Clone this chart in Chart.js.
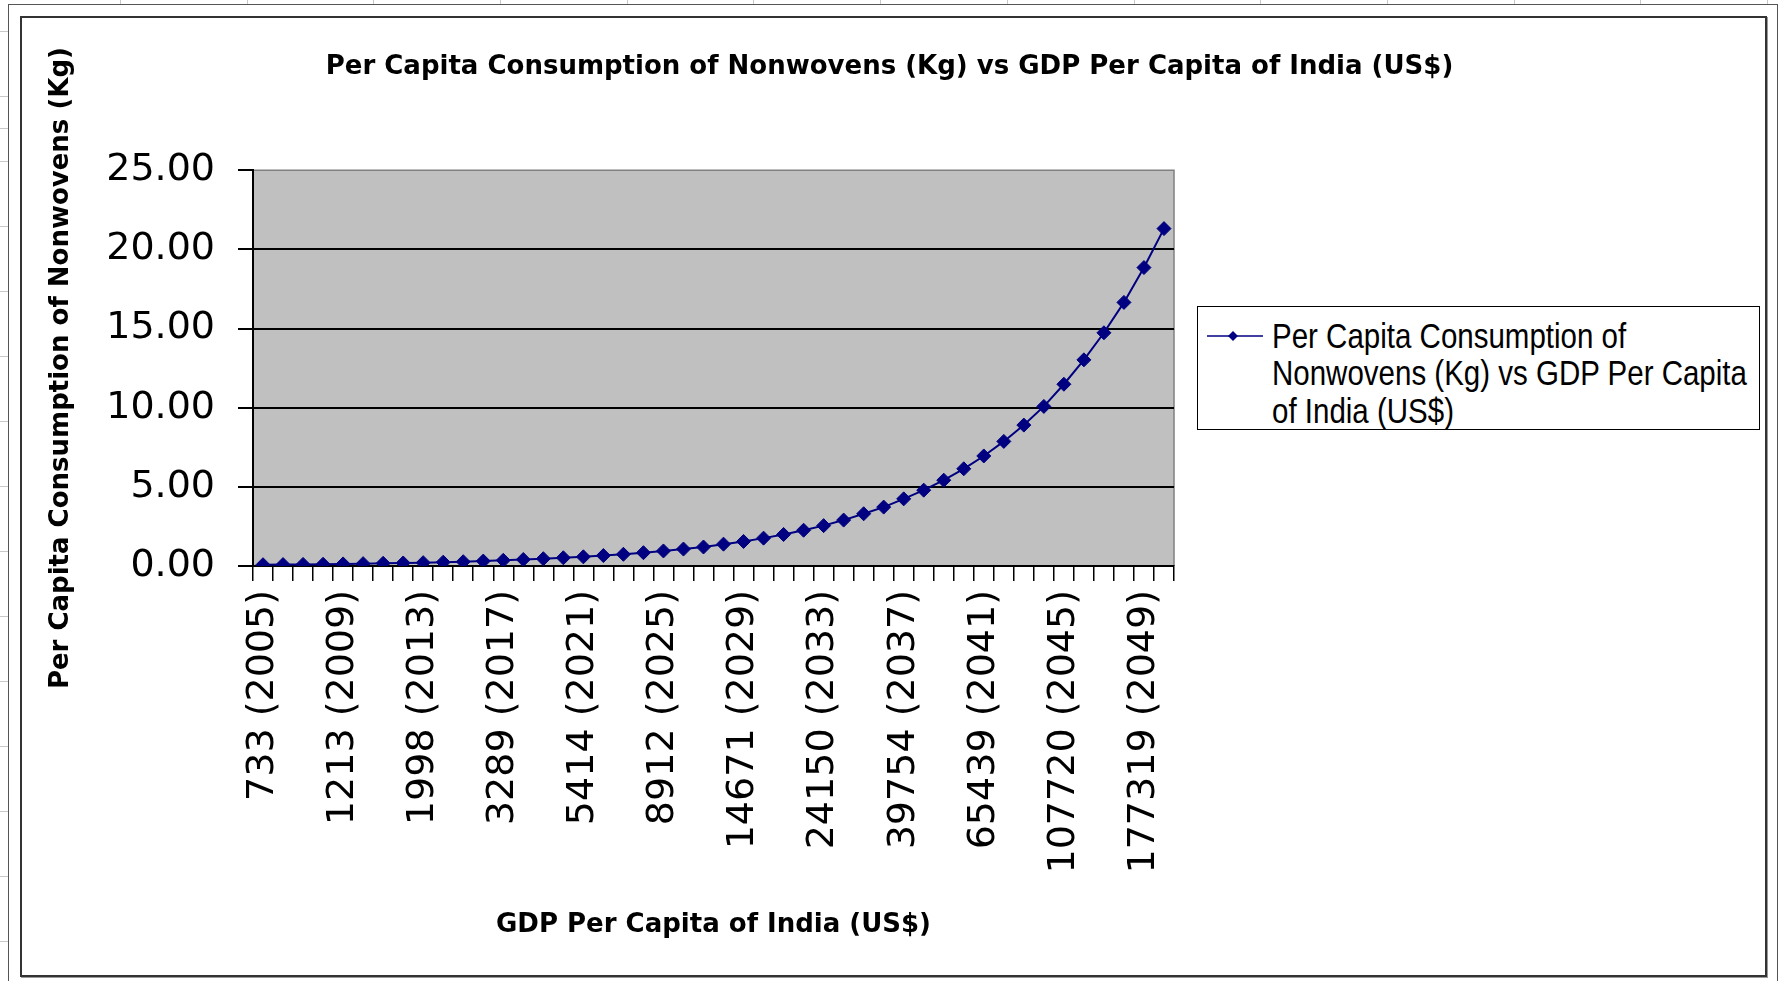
<!DOCTYPE html>
<html>
<head>
<meta charset="utf-8">
<script src="https://cdn.jsdelivr.net/npm/chart.js@4.4.1/dist/chart.umd.min.js"></script>
<style>
	html, body { margin: 0; padding: 0; background: #fff; }
	body { width: 1779px; height: 981px; position: relative; overflow: hidden; }
	#topstrip { position: absolute; left: 0; top: 0; width: 1779px; height: 5px;
		background: repeating-linear-gradient(90deg, transparent 0 120px, #c8c8c8 120px 121px, transparent 121px 126.7px); }
	#leftstrip { position: absolute; left: 0; top: 0; width: 8px; height: 981px;
		background: repeating-linear-gradient(180deg, transparent 0 31px, #c8c8c8 31px 32px, transparent 32px 32.5px); }
	#outer { position: absolute; left: 8px; top: 4px; width: 1768px; height: 985px; border: 1px solid #555; border-bottom: none; background: #fff; }
	#inner { position: absolute; left: 20px; top: 16px; width: 1743px; height: 957px; border: 2px solid #333;
		box-shadow: 1px 1px 0 #999; background: #fff; }
	#mycanvas { position: absolute; left: 0; top: 0; }
	#legend { position: absolute; left: 1197px; top: 306px; width: 561px; height: 122px; border: 1.5px solid #000; background: #fff; }
	#legend svg { position: absolute; left: 9px; top: 22px; }
	#legend .txt { position: absolute; left: 74px; top: 10px; width: 480px; font-family: "Liberation Sans", Arial, sans-serif;
		font-size: 29.5px; line-height: 31px; color: #000; transform: scaleY(1.2); transform-origin: 0 0; white-space: nowrap; }
</style>
</head>
<body>
<div id="topstrip"></div>
<div id="leftstrip"></div>
<div id="outer"></div>
<div id="inner"></div>
<canvas id="mycanvas" width="1779" height="981"></canvas>
<div id="legend">
	<svg width="60" height="14" viewBox="0 0 60 14">
		<line x1="0" y1="7" x2="56" y2="7" stroke="#000080" stroke-width="1.5"/>
		<polygon points="26,2 31,7 26,12 21,7" fill="#000080"/>
	</svg>
	<div class="txt">Per Capita Consumption of<br>Nonwovens (Kg) vs GDP Per Capita<br>of India (US$)</div>
</div>
<script>
var years = [2005, 2006, 2007, 2008, 2009, 2010, 2011, 2012, 2013, 2014, 2015, 2016, 2017, 2018, 2019, 2020,
	2021, 2022, 2023, 2024, 2025, 2026, 2027, 2028, 2029, 2030, 2031, 2032, 2033, 2034, 2035, 2036, 2037,
	2038, 2039, 2040, 2041, 2042, 2043, 2044, 2045, 2046, 2047, 2048, 2049, 2050];

// GDP per capita (US$) - only every 4th one is printed on the chart, the rest are estimates
var gdpPerCapita = [733, 831, 943, 1069, 1213, 1374, 1556, 1763, 1998, 2263, 2563, 2903, 3289, 3725, 4220, 4780,
	5414, 6132, 6946, 7868, 8912, 10095, 11434, 12952, 14671, 16618, 18823, 21321, 24150, 27355, 30985, 35097,
	39754, 45029, 51005, 57773, 65439, 74123, 83959, 95100, 107720, 122015, 138206, 156546, 177319, 200850];

// per capita consumption of nonwovens (Kg)
var consumption = [0.08, 0.09, 0.10, 0.11, 0.13, 0.15, 0.17, 0.19, 0.21, 0.24, 0.27, 0.31, 0.36, 0.41, 0.46, 0.52,
	0.58, 0.66, 0.74, 0.84, 0.95, 1.07, 1.20, 1.38, 1.55, 1.76, 1.99, 2.26, 2.55, 2.90, 3.30, 3.72,
	4.24, 4.79, 5.42, 6.14, 6.95, 7.87, 8.90, 10.08, 11.48, 13.02, 14.73, 16.65, 18.85, 21.31];

var yTicks = [0, 5, 10, 15, 20, 25];
var labelEvery = 4;

var labels = [];
for (var i in years) {
	labels.push(gdpPerCapita[i] + " (" + years[i] + ")");
}

var plotBackground = {
	id: 'plotBackground',
	beforeDraw: function(chart) {
		var ca = chart.chartArea;
		var ctx = chart.ctx;
		ctx.save();
		ctx.fillStyle = "#C0C0C0";
		ctx.fillRect(ca.left, ca.top, ca.right - ca.left, ca.bottom - ca.top);
		ctx.strokeStyle = "#808080";
		ctx.lineWidth = 1.5;
		ctx.beginPath();
		ctx.moveTo(ca.left, ca.top);
		ctx.lineTo(ca.right, ca.top);
		ctx.lineTo(ca.right, ca.bottom);
		ctx.stroke();
		ctx.restore();
	}
};

var chartdata = {
	labels: labels,
	datasets: [
		{
			label: 'Per Capita Consumption of Nonwovens (Kg) vs GDP Per Capita of India (US$)',
			data: consumption,
			borderColor: "#000080",
			backgroundColor: "#000080",
			borderWidth: 2,
			pointStyle: 'rectRot',
			pointRadius: 7,
			pointBorderWidth: 1,
			tension: 0
		}
	]
};

var ctx = document.getElementById("mycanvas");

var lineGraph = new Chart(ctx, {
	type: 'line',
	data: chartdata,
	plugins: [plotBackground],
	options: {
		responsive: false,
		animation: false,
		layout: { padding: 0 },
		plugins: {
			legend: { display: false },
			tooltip: { enabled: false },
			title: {
				display: true,
				text: 'Per Capita Consumption of Nonwovens (Kg) vs GDP Per Capita of India (US$)',
				color: '#000',
				font: { family: 'DejaVu Sans', size: 26, weight: 'bold' },
				padding: { top: 52, bottom: 87 }
			}
		},
		scales: {
			x: {
				offset: true,
				afterFit: function(scale) { scale.height = 415; },
				grid: { offset: true, drawOnChartArea: false, drawTicks: true, tickLength: 15, color: '#000', lineWidth: 1.5 },
				border: { color: '#000', width: 2 },
				ticks: {
					autoSkip: false,
					maxRotation: 90,
					minRotation: 90,
					padding: 9,
					color: '#000',
					font: { family: 'DejaVu Sans', size: 38 },
					callback: function(val, index) {
						return index % labelEvery === 0 ? this.getLabelForValue(val) : '';
					}
				},
				title: {
					display: true,
					text: 'GDP Per Capita of India (US$)',
					color: '#000',
					font: { family: 'DejaVu Sans', size: 26, weight: 'bold' },
					padding: { top: 0, bottom: 40 }
				}
			},
			y: {
				min: 0,
				max: 25,
				afterFit: function(scale) { scale.width = 253; },
				afterBuildTicks: function(scale) {
					scale.ticks = yTicks.map(function(v) { return { value: v }; });
				},
				grid: {
					drawTicks: true,
					tickLength: 15,
					lineWidth: 2,
					tickColor: '#000',
					color: function(c) { return c.tick && c.tick.value === 25 ? 'rgba(0,0,0,0)' : '#000'; }
				},
				border: { color: '#000', width: 2 },
				ticks: {
					padding: 23,
					color: '#000',
					font: { family: 'DejaVu Sans', size: 38 },
					callback: function(v) { return Number(v).toFixed(2); }
				},
				title: {
					display: true,
					text: 'Per Capita Consumption of Nonwovens (Kg)',
					color: '#000',
					font: { family: 'DejaVu Sans', size: 26, weight: 'bold' },
					padding: { top: 46, bottom: 0 }
				}
			},
			// empty space on the right where the legend box sits
			legendSpace: {
				type: 'linear',
				position: 'right',
				afterFit: function(scale) { scale.width = 605; },
				grid: { display: false, drawTicks: false },
				border: { display: false },
				ticks: { display: false }
			}
		}
	}
});
</script>
</body>
</html>
